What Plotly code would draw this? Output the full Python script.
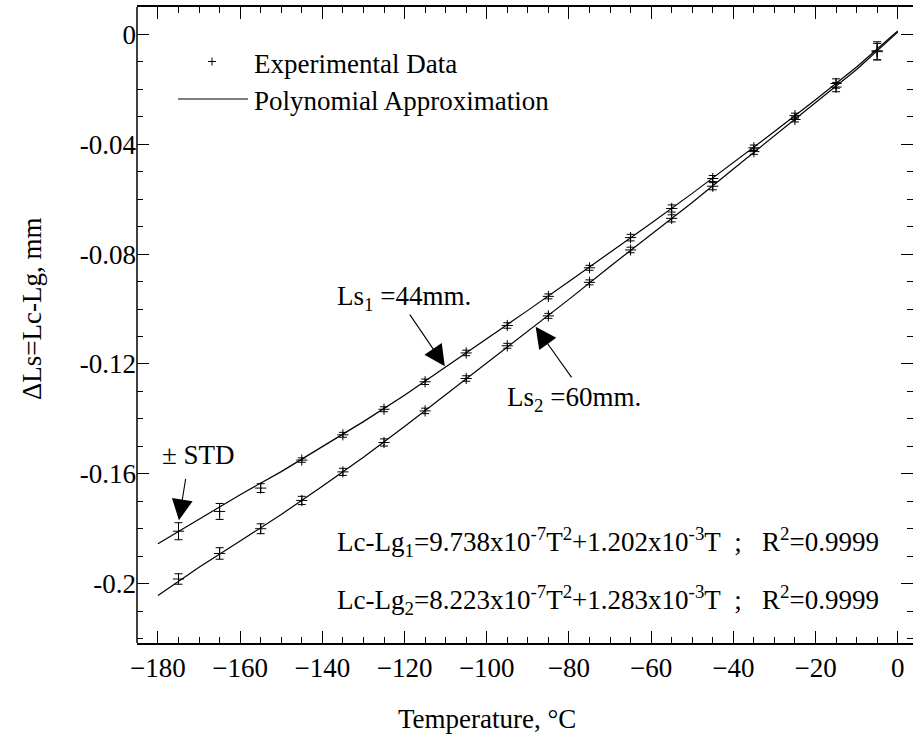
import plotly.graph_objects as go

# ---------------- data ----------------
temps = [-175, -165, -155, -145, -135, -125, -115, -105, -95,
         -85, -75, -65, -55, -45, -35, -25, -15, -5]

ls1_vals = [-0.1809, -0.1737, -0.1652, -0.1550, -0.1458, -0.1365, -0.1265, -0.1160,
            -0.1060, -0.0954, -0.0850, -0.0740, -0.0634, -0.0525, -0.0413, -0.0296,
            -0.0179, -0.0060]
ls1_std = [0.0031, 0.0029, 0.0016, 0.0008, 0.0009, 0.0009, 0.0010, 0.0010, 0.0010,
           0.0009, 0.0009, 0.0012, 0.0013, 0.0011, 0.0010, 0.0009, 0.0017, 0.0033]

ls2_vals = [-0.1983, -0.1890, -0.1800, -0.1697, -0.1593, -0.1486, -0.1371, -0.1253,
            -0.1134, -0.1025, -0.0903, -0.0785, -0.0670, -0.0553, -0.0427, -0.0310,
            -0.0192, -0.0063]
ls2_std = [0.0019, 0.0021, 0.0018, 0.0015, 0.0013, 0.0013, 0.0010, 0.0010, 0.0009,
           0.0009, 0.0009, 0.0010, 0.0013, 0.0013, 0.0010, 0.0009, 0.0017, 0.0030]

fit_temps = [-180, -170, -160, -150, -140, -130, -120, -110, -100, -90,
             -80, -70, -60, -50, -40, -30, -20, -10, 0]
fit1_vals = [-0.1855, -0.1765, -0.1676, -0.1592, -0.1502, -0.1410, -0.1314, -0.1212,
             -0.1108, -0.1005, -0.0900, -0.0795, -0.0688, -0.0579, -0.0468, -0.0354,
             -0.0238, -0.0119, 0.0012]
fit2_vals = [-0.2043, -0.1940, -0.1845, -0.1748, -0.1645, -0.1540, -0.1428, -0.1312,
             -0.1194, -0.1080, -0.0965, -0.0845, -0.0727, -0.0612, -0.0490, -0.0369,
             -0.0251, -0.0128, 0.0008]

x_ticks = [-180, -160, -140, -120, -100, -80, -60, -40, -20, 0]
y_ticks = [0, -0.04, -0.08, -0.12, -0.16, -0.2]
y_ticktext = ["0", "-0.04", "-0.08", "-0.12", "-0.16", "-0.2"]

FONT = "Liberation Serif"
FS = 27
W, H = 913, 746
ML, MR, MT, MB = 137, 0, 7, 103
PW, PH = W - ML - MR, H - MT - MB


def px(x):
    return (x - ML) / PW


def py(y):
    return (H - MB - y) / PH


fig = go.Figure()

for vals in (fit1_vals, fit2_vals):
    fig.add_trace(go.Scatter(x=fit_temps, y=vals, mode="lines",
                             line=dict(color="black", width=1.2),
                             showlegend=False, hoverinfo="skip"))

for vals, std in ((ls1_vals, ls1_std), (ls2_vals, ls2_std)):
    fig.add_trace(go.Scatter(
        x=temps, y=vals, mode="markers",
        marker=dict(symbol="cross-thin", size=8, color="black",
                    line=dict(color="black", width=1)),
        error_y=dict(type="data", array=std, visible=True,
                     thickness=1, width=4, color="black"),
        showlegend=False))

shapes = [
    # left axis line
    dict(type="line", xref="paper", yref="paper", x0=0, x1=0, y0=0, y1=1,
         line=dict(color="black", width=1.5)),
    # legend glyphs
    dict(type="line", xref="paper", yref="paper", x0=px(178), x1=px(248),
         y0=py(99), y1=py(99), line=dict(color="black", width=1)),
    dict(type="line", xref="paper", yref="paper", x0=px(208), x1=px(216),
         y0=py(61.5), y1=py(61.5), line=dict(color="black", width=1)),
    dict(type="line", xref="paper", yref="paper", x0=px(212), x1=px(212),
         y0=py(57.5), y1=py(65.5), line=dict(color="black", width=1)),
]

tf = dict(family=FONT, size=FS, color="black")
NB = "\u00a0"
eq1 = ("Lc-Lg<sub>1</sub>=9.738x10<sup>-7</sup>T<sup>2</sup>+1.202x10<sup>-3</sup>T"
       + NB * 2 + ";" + NB * 3 + "R<sup>2</sup>=0.9999")
eq2 = ("Lc-Lg<sub>2</sub>=8.223x10<sup>-7</sup>T<sup>2</sup>+1.283x10<sup>-3</sup>T"
       + NB * 2 + ";" + NB * 3 + "R<sup>2</sup>=0.9999")
annotations = [
    dict(xref="paper", yref="paper", x=px(252), y=py(64), text="Experimental Data",
         showarrow=False, xanchor="left", yanchor="middle", font=tf),
    dict(xref="paper", yref="paper", x=px(252), y=py(101), text="Polynomial Approximation",
         showarrow=False, xanchor="left", yanchor="middle", font=tf),
    dict(xref="paper", yref="paper", x=px(335), y=py(298),
         text="Ls<sub>1</sub> =44mm.", showarrow=False, xanchor="left",
         yanchor="middle", font=tf),
    dict(xref="paper", yref="paper", x=px(505), y=py(399),
         text="Ls<sub>2</sub> =60mm.", showarrow=False, xanchor="left",
         yanchor="middle", font=tf),
    dict(xref="paper", yref="paper", x=px(198), y=py(455),
         text="± STD", showarrow=False, xanchor="center",
         yanchor="middle", font=tf),
    dict(xref="paper", yref="paper", x=px(335), y=py(542), text=eq1,
         showarrow=False, xanchor="left", yanchor="middle", font=tf),
    dict(xref="paper", yref="paper", x=px(335), y=py(600), text=eq2,
         showarrow=False, xanchor="left", yanchor="middle", font=tf),
    # arrows
    dict(x=-110.2, y=-0.1208, xref="x", yref="y", text="", showarrow=True,
         ax=-36, ay=-53, arrowhead=2, arrowsize=3.8, arrowwidth=1.1, arrowcolor="black"),
    dict(x=-88.1, y=-0.1065, xref="x", yref="y", text="", showarrow=True,
         ax=37, ay=52, arrowhead=2, arrowsize=3.8, arrowwidth=1.1, arrowcolor="black"),
    dict(x=-174.9, y=-0.1769, xref="x", yref="y", text="", showarrow=True,
         ax=7, ay=-43, arrowhead=2, arrowsize=3.8, arrowwidth=1.1, arrowcolor="black"),
    # axis titles
    dict(xref="paper", yref="paper", x=px(487), y=py(719), text="Temperature, °C",
         showarrow=False, xanchor="center", yanchor="middle", font=tf),
    dict(xref="paper", yref="paper", x=px(32), y=py(309), text="ΔLs=Lc-Lg, mm",
         showarrow=False, xanchor="center", yanchor="middle", textangle=-90, font=tf),
]

fig.update_layout(
    width=W, height=H,
    margin=dict(l=ML, r=MR, t=MT, b=MB, autoexpand=False),
    paper_bgcolor="white", plot_bgcolor="white",
    font=dict(family=FONT, size=FS, color="black"),
    showlegend=False,
    shapes=shapes, annotations=annotations,
    xaxis=dict(range=[-185.1, 3.72], tickvals=x_ticks, ticks="inside", ticklen=12,
               tickwidth=1, tickcolor="black", showline=True, linecolor="black",
               linewidth=1.5, mirror="ticks", showgrid=False, zeroline=False,
               tickfont=tf,
               minor=dict(dtick=5, tick0=0, ticks="inside", ticklen=6, tickwidth=1,
                          tickcolor="black", showgrid=False)),
    yaxis=dict(range=[-0.2216, 0.00995], tickvals=y_ticks, ticktext=y_ticktext,
               ticks="inside", ticklen=12, tickwidth=1, tickcolor="black",
               showline=False, mirror="ticks", showgrid=False, zeroline=False,
               tickfont=tf,
               minor=dict(dtick=0.01, tick0=0, ticks="inside", ticklen=6, tickwidth=1,
                          tickcolor="black", showgrid=False)),
)

fig.write_html("out.html", config={"displayModeBar": False},
               post_script="document.body.style.margin='0px';")
